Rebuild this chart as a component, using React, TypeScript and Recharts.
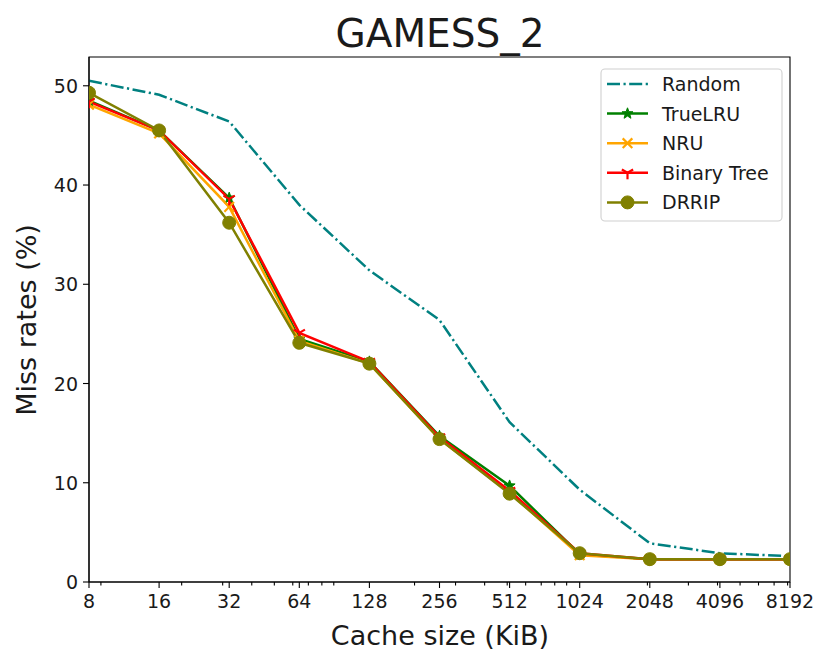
import React from "react";
import { LineChart, Line, XAxis, YAxis, ReferenceArea } from "recharts";

const categories = [8, 16, 32, 64, 128, 256, 512, 1024, 2048, 4096, 8192];
const minorTicks = [9, 20, 30, 40, 50, 60, 70, 80, 90, 200, 300, 400, 500, 600, 700, 800, 900, 2000, 3000, 4000, 5000, 6000, 7000, 8000];
const yTicks = [0, 10, 20, 30, 40, 50];

const randomRates = [50.5, 49.1, 46.4, 38.0, 31.4, 26.4, 16.1, 9.3, 3.9, 2.9, 2.6];
const trueLruRates = [48.5, 45.5, 38.7, 24.5, 22.2, 14.7, 9.7, 2.8, 2.3, 2.3, 2.3];
const nruRates = [48.1, 45.2, 37.8, 24.3, 22.0, 14.4, 9.0, 2.7, 2.3, 2.3, 2.3];
const binaryTreeRates = [48.4, 45.5, 38.6, 25.1, 22.2, 14.6, 9.2, 2.9, 2.3, 2.3, 2.3];
const drripRates = [49.3, 45.5, 36.2, 24.1, 22.0, 14.4, 8.9, 2.9, 2.3, 2.3, 2.3];

const seriesNames = ["Random", "TrueLRU", "NRU", "Binary Tree", "DRRIP"];
const seriesColors = ["#008080", "#008000", "#FFA500", "#FF0000", "#808000"];
const seriesMarkers = ["none", "star", "x", "tri", "circle"];
const seriesValues = [randomRates, trueLruRates, nruRates, binaryTreeRates, drripRates];

const data = categories.map((c, i) => {
  const row: any = { size: c };
  seriesNames.forEach((n, j) => (row[n] = seriesValues[j][i]));
  return row;
});

const FONT = "'DejaVu Sans', sans-serif";
const TXT = "#1a1a1a";
const LW = 2.5;

function Marker({ kind, cx, cy, color }: { kind: string; cx: number; cy: number; color: string }) {
  if (cx == null || cy == null) return null;
  if (kind === "star") {
    const R = 5.8, r = R * 0.42;
    const pts: string[] = [];
    for (let k = 0; k < 10; k++) {
      const a = -Math.PI / 2 + (k * Math.PI) / 5;
      const rad = k % 2 === 0 ? R : r;
      pts.push(`${cx + rad * Math.cos(a)},${cy + rad * Math.sin(a)}`);
    }
    return <polygon points={pts.join(" ")} fill={color} stroke={color} strokeWidth={1} />;
  }
  if (kind === "x") {
    const s = 4.8;
    return (
      <g stroke={color} strokeWidth={2.2}>
        <line x1={cx - s} y1={cy - s} x2={cx + s} y2={cy + s} />
        <line x1={cx - s} y1={cy + s} x2={cx + s} y2={cy - s} />
      </g>
    );
  }
  if (kind === "tri") {
    const s = 6.5;
    return (
      <g stroke={color} strokeWidth={2.2}>
        <line x1={cx} y1={cy} x2={cx} y2={cy + s} />
        <line x1={cx} y1={cy} x2={cx - s * 0.866} y2={cy - s * 0.5} />
        <line x1={cx} y1={cy} x2={cx + s * 0.866} y2={cy - s * 0.5} />
      </g>
    );
  }
  if (kind === "circle") {
    return <circle cx={cx} cy={cy} r={6.5} fill={color} stroke={color} strokeWidth={1} />;
  }
  return null;
}

const majorSet = new Set(categories);
const allXTicks = [...categories, ...minorTicks].sort((a, b) => a - b);

function XTick(props: any) {
  const { x, y, payload } = props;
  const major = majorSet.has(payload.value);
  return (
    <g>
      <line x1={x} y1={y} x2={x} y2={y + (major ? 6 : 3.5)} stroke="#000" strokeWidth={1.1} />
      {major && (
        <text x={x} y={y + 26} textAnchor="middle" fontSize={19} fontFamily={FONT} fill={TXT}>
          {payload.value}
        </text>
      )}
    </g>
  );
}

function YTick(props: any) {
  const { x, y, payload } = props;
  return (
    <text x={x} y={y + 7} textAnchor="end" fontSize={19} fontFamily={FONT} fill={TXT}>
      {payload.value}
    </text>
  );
}

const dashDot = "13 3.5 2.2 3.5";

export default function App() {
  const legendTop = 69;
  const rowH = 29.6;
  return (
    <div style={{ position: "absolute", left: 0, top: 0, width: 820, height: 652, background: "#fff" }}>
      <LineChart
        width={820}
        height={652}
        data={data}
        margin={{ top: 57, right: 30, left: 29, bottom: 0 }}
      >
        <ReferenceArea
          x1={8}
          x2={8192}
          y1={0}
          y2={52.9}
          fill="none"
          fillOpacity={0}
          stroke="#000"
          strokeWidth={1.1}
          ifOverflow="visible"
        />
        <XAxis
          dataKey="size"
          type="number"
          scale="log"
          domain={[8, 8192]}
          ticks={allXTicks}
          interval={0}
          allowDataOverflow
          height={70}
          tickSize={0}
          tickMargin={0}
          tickLine={false}
          tick={<XTick />}
          axisLine={{ stroke: "#000", strokeWidth: 1.1 }}
        />
        <YAxis
          type="number"
          domain={[0, 52.9]}
          ticks={yTicks}
          interval={0}
          allowDataOverflow
          width={60}
          tickSize={6}
          tickMargin={5}
          tick={<YTick />}
          tickLine={{ stroke: "#000", strokeWidth: 1.1 }}
          axisLine={{ stroke: "#000", strokeWidth: 1.1 }}
        />
        {seriesNames.map((n, j) => (
          <Line
            key={n}
            dataKey={n}
            stroke={seriesColors[j]}
            strokeWidth={LW}
            strokeDasharray={j === 0 ? dashDot : undefined}
            isAnimationActive={false}
            dot={(p: any) => <Marker key={`${n}-${p.index}`} kind={seriesMarkers[j]} cx={p.cx} cy={p.cy} color={seriesColors[j]} />}
            activeDot={false}
          />
        ))}
      </LineChart>
      <svg
        width={820}
        height={652}
        style={{ position: "absolute", left: 0, top: 0, pointerEvents: "none" }}
      >
        <text x={440} y={47} textAnchor="middle" fontSize={39} fontFamily={FONT} fill={TXT}>
          GAMESS_2
        </text>
        <text x={440} y={645} textAnchor="middle" fontSize={27} fontFamily={FONT} fill={TXT}>
          Cache size (KiB)
        </text>
        <text
          transform="translate(36,320) rotate(-90)"
          textAnchor="middle"
          fontSize={27}
          fontFamily={FONT}
          fill={TXT}
        >
          Miss rates (%)
        </text>
        <rect x={601} y={legendTop} width={181} height={rowH * 5 + 4} rx={4} fill="#fff" fillOpacity={0.8} stroke="#d0d0d0" strokeWidth={1.1} />
        {seriesNames.map((n, j) => {
          const cy = legendTop + 15 + j * rowH;
          return (
            <g key={n}>
              <line x1={607} y1={cy} x2={648} y2={cy} stroke={seriesColors[j]} strokeWidth={LW} strokeDasharray={j === 0 ? dashDot : undefined} />
              <Marker kind={seriesMarkers[j]} cx={627.5} cy={cy} color={seriesColors[j]} />
              <text x={662} y={cy + 7} fontSize={19} fontFamily={FONT} fill={TXT}>
                {n}
              </text>
            </g>
          );
        })}
      </svg>
    </div>
  );
}
